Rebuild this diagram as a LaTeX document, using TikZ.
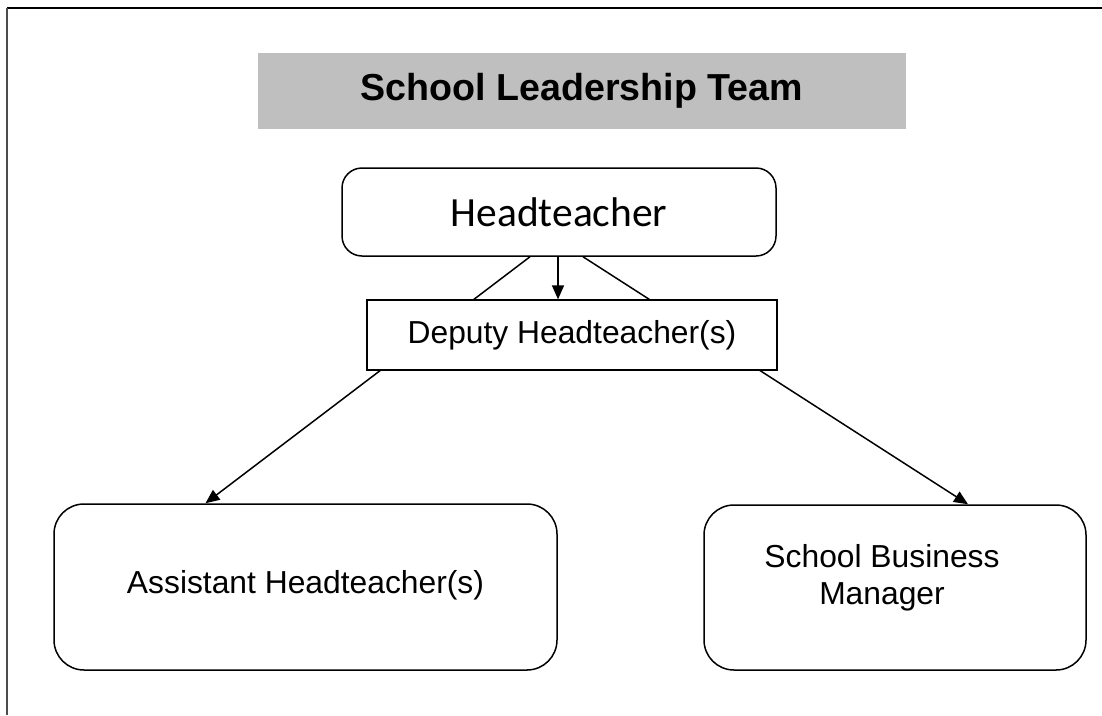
\documentclass[tikz,border=0pt]{standalone}
\usepackage{fontspec}
\setmainfont{Liberation Sans}
\newfontfamily\headfont{Carlito}
\usepackage{tikz}
\usetikzlibrary{arrows.meta,backgrounds}

\begin{document}
\begin{tikzpicture}[x=1pt,y=-1pt,thick]
    % `title' is the grey banner, `post' the rounded boxes.
    % `plainpost' is the square box for the deputies.
    \tikzstyle{title} = [fill=black!25,inner sep=0pt,minimum width=648pt,minimum height=76pt,font=\fontsize{37.6}{44}\selectfont\bfseries]
    \tikzstyle{post} = [draw,fill=white,line width=1.5pt,rounded corners=30pt,inner sep=0pt,font=\fontsize{31.8}{37}\selectfont]
    \tikzstyle{plainpost} = [draw,fill=white,line width=1.3pt,inner sep=0pt,font=\fontsize{31.8}{37}\selectfont]
    \tikzstyle{link} = [line width=1.5pt,-{Triangle[length=14pt,width=12pt]}]
    %
    \useasboundingbox (0,0) rectangle (1102,715);
    % Frame lines.
    \draw[line width=2.5pt] (7,8) -- (1102,8);
    \draw[line width=2pt,black!70] (7,8) -- (7,715);
    %
    \node[title] (team) at (582,91) {School Leadership Team};
    \node[post,rounded corners=20pt,minimum width=434pt,minimum height=88pt,
          font=\fontsize{41.5}{48}\selectfont\headfont] (head) at (559,212) {Headteacher};
    \node[plainpost,minimum width=410pt,minimum height=70pt] (deputy) at (572,335) {Deputy Headteacher(s)};
    \node[post,minimum width=503pt,minimum height=166pt] (assistant) at (305.5,587) {};
    \node (assistanttext) at (305.5,585) [font=\fontsize{31.8}{37}\selectfont] {Assistant Headteacher(s)};
    \node[post,minimum width=382pt,minimum height=165pt] (sbm) at (895,587.5) {};
    \node (sbmtext) at (882,578) [align=center,font=\fontsize{31.8}{37}\selectfont] {School Business\\Manager};
    %
    \begin{pgfonlayer}{background}
        % Draw arrows behind the boxes.
        \draw[link] ([xshift=-29pt]head.south) -- ([xshift=-100pt]assistant.north);
        \draw[link] ([xshift=-1pt]head.south) -- ([xshift=-14pt]deputy.north);
        \draw[link] ([xshift=24pt]head.south) -- ([xshift=73pt]sbm.north);
    \end{pgfonlayer}
\end{tikzpicture}
\end{document}
